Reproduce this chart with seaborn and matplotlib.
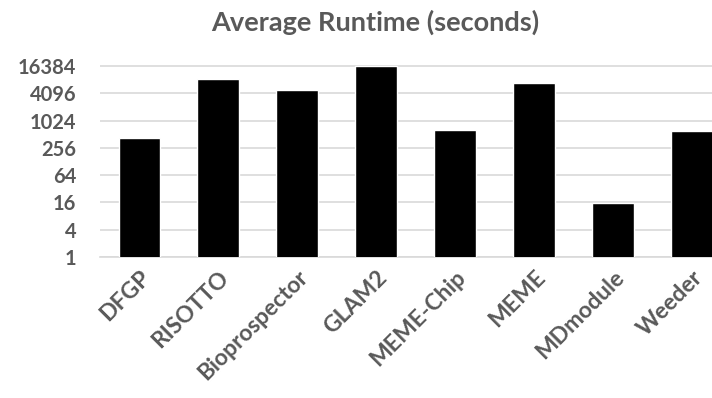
import matplotlib
matplotlib.use("Agg")
import matplotlib.pyplot as plt
import seaborn as sns
import pandas as pd

tools = ["DFGP", "RISOTTO", "Bioprospector", "GLAM2", "MEME-Chip", "MEME", "MDmodule", "Weeder"]
runtime = [425, 8300, 4770, 16600, 638, 6800, 15.2, 596]
ytick_vals = [1, 4, 16, 64, 256, 1024, 4096, 16384]
ytick_labels = ["1", "4", "16", "64", "256", "1024", "4096", "16384"]

sns.set_style("white")
plt.rcParams['font.family'] = ['Lato', 'DejaVu Sans']

df = pd.DataFrame({"tool": tools, "runtime": runtime})

fig = plt.figure(figsize=(7.12, 3.98), dpi=100)
W, H = 712, 398
top_exp = 14.1
px_per = 191 / 14
ax = fig.add_axes([100 / W, (H - 257) / H, 631.5 / W, (top_exp * px_per) / H])

sns.barplot(data=df, x="tool", y="runtime", color="black", width=0.53,
            saturation=1, ax=ax, zorder=3)
ax.set_yscale("log", base=2)
ax.set_ylim(1, 2 ** top_exp)
ax.set_xlim(-0.5, len(tools) - 0.5)
ax.set_yticks(ytick_vals)
ax.set_yticklabels(ytick_labels)
ax.minorticks_off()
ax.yaxis.grid(True, color="#d9d9d9", linewidth=1.2, zorder=0)
ax.set_axisbelow(True)
for s in ["top", "right", "left"]:
    ax.spines[s].set_visible(False)
ax.spines["bottom"].set_color("#d9d9d9")
ax.spines["bottom"].set_linewidth(1.2)
ax.tick_params(axis="both", length=0)
ax.tick_params(axis="y", pad=17)
ax.set_xlabel("")
ax.set_ylabel("")
for lab in ax.get_yticklabels():
    lab.set_fontsize(14.5)
    lab.set_fontweight("bold")
    lab.set_color("#595959")
ax.set_xticks(range(len(tools)))
ax.set_xticklabels(tools, rotation=45, ha="right", rotation_mode="anchor",
                   fontsize=16.5, fontweight="bold", color="#595959")
ax.tick_params(axis="x", pad=7)

fig.text(375 / W, (H - 22) / H, "Average Runtime (seconds)", ha="center", va="center",
         fontsize=19.5, fontweight="bold", color="#595959")

fig.savefig("out.png", dpi=100)
